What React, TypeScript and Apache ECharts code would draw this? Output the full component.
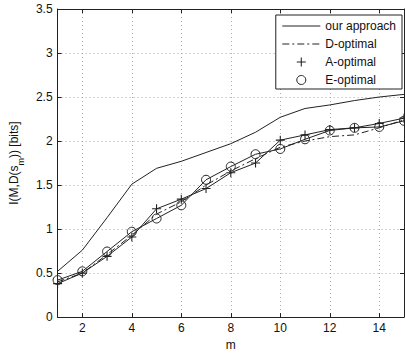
import React, { useEffect, useRef } from "react";
import * as echarts from "echarts";

const mValues = [1, 2, 3, 4, 5, 6, 7, 8, 9, 10, 11, 12, 13, 14, 15];
const ourApproach = [0.52, 0.76, 1.13, 1.51, 1.69, 1.77, 1.87, 1.97, 2.1, 2.27, 2.37, 2.41, 2.46, 2.5, 2.53];
const dOptimal = [0.4, 0.5, 0.71, 0.93, 1.17, 1.31, 1.5, 1.66, 1.8, 1.93, 2.0, 2.05, 2.07, 2.15, 2.24];
const aOptimal = [0.38, 0.5, 0.69, 0.91, 1.23, 1.34, 1.46, 1.64, 1.75, 2.01, 2.07, 2.13, 2.15, 2.2, 2.26];
const eOptimal = [0.42, 0.52, 0.745, 0.97, 1.12, 1.27, 1.56, 1.71, 1.85, 1.91, 2.02, 2.12, 2.15, 2.16, 2.23];
const seriesNames = ["our approach", "D-optimal", "A-optimal", "E-optimal"];

const FONT = "Liberation Sans, Arial, Helvetica, sans-serif";
const PLUS = "path://M4.4,0 L5.6,0 L5.6,4.4 L10,4.4 L10,5.6 L5.6,5.6 L5.6,10 L4.4,10 L4.4,5.6 L0,5.6 L0,4.4 L4.4,4.4 Z";

export default function App() {
  const ref = useRef<HTMLDivElement>(null);
  useEffect(() => {
    if (!ref.current) return;
    const chart = echarts.init(ref.current, null, { renderer: "svg" });
    const pair = (arr: number[]) => mValues.map((m, i) => [m, arr[i]]);
    const axisCommon = {
      axisLine: { show: true, onZero: false, lineStyle: { color: "#222", width: 1 } },
      axisTick: { show: true, inside: true, length: 4, lineStyle: { color: "#222" } },
    };
    const xBase = { type: "value", min: 1, max: 15, splitNumber: 7 };
    const yBase = { type: "value", min: 0, max: 3.5, interval: 0.5 };
    chart.setOption({
      animation: false,
      backgroundColor: "#fff",
      textStyle: { fontFamily: FONT },
      grid: { left: 54, right: 1, top: 9, bottom: 32, containLabel: false },
      legend: {
        data: [
          { name: seriesNames[0], itemStyle: { opacity: 0 } },
          { name: seriesNames[1], itemStyle: { opacity: 0 } },
          { name: seriesNames[2], icon: PLUS, itemStyle: { color: "#222" } },
          {
            name: seriesNames[3],
            icon: "circle",
            itemStyle: { color: "transparent", borderColor: "#222", borderWidth: 1 },
          },
        ],
        orient: "vertical",
        right: 3,
        top: 15,
        padding: [5, 6, 3, 6],
        itemGap: 6,
        itemWidth: 38,
        itemHeight: 9,
        backgroundColor: "#fff",
        borderColor: "#222",
        borderWidth: 1,
        borderRadius: 0,
        selectedMode: false,
        lineStyle: { width: 1 },
        textStyle: { fontSize: 12, color: "#111", fontFamily: FONT },
      },
      xAxis: [
        {
          ...xBase,
          position: "bottom",
          ...axisCommon,
          name: "m",
          nameLocation: "middle",
          nameGap: 21,
          nameTextStyle: { fontSize: 12, color: "#111", fontFamily: FONT },
          axisLabel: { showMinLabel: false, showMaxLabel: false, margin: 5, fontSize: 12, color: "#111", fontFamily: FONT },
          splitLine: { show: true, lineStyle: { color: "#aaa", type: [1, 3], width: 1 } },
        },
        {
          ...xBase,
          position: "top",
          ...axisCommon,
          axisLabel: { show: false },
          splitLine: { show: false },
        },
      ],
      yAxis: [
        {
          ...yBase,
          position: "left",
          ...axisCommon,
          name: "I(M,D(s{sub|m})) [bits]",
          nameLocation: "middle",
          nameGap: 33,
          nameTextStyle: {
            fontSize: 12,
            color: "#111",
            fontFamily: FONT,
            rich: { sub: { fontSize: 9, fontFamily: FONT, color: "#111", verticalAlign: "bottom", padding: [0, 0, -5, 0] } },
          },
          axisLabel: { margin: 5, fontSize: 12, color: "#111", fontFamily: FONT },
          splitLine: { show: true, lineStyle: { color: "#aaa", type: [1, 3], width: 1 } },
        },
        {
          ...yBase,
          position: "right",
          ...axisCommon,
          axisLabel: { show: false },
          splitLine: { show: false },
        },
      ],
      series: [
        {
          name: seriesNames[0],
          type: "line",
          data: pair(ourApproach),
          symbol: "none",
          lineStyle: { color: "#222", width: 1 },
          itemStyle: { color: "#222" },
        },
        {
          name: seriesNames[1],
          type: "line",
          data: pair(dOptimal),
          symbol: "none",
          lineStyle: { color: "#222", width: 1, type: [7, 3, 2, 3] },
          itemStyle: { color: "#222" },
        },
        {
          name: seriesNames[2],
          type: "line",
          data: pair(aOptimal),
          symbol: PLUS,
          symbolSize: 9,
          lineStyle: { color: "#222", width: 1 },
          itemStyle: { color: "#222" },
        },
        {
          name: seriesNames[3],
          type: "line",
          data: pair(eOptimal),
          symbol: "circle",
          symbolSize: 9,
          lineStyle: { color: "#222", width: 1 },
          itemStyle: { color: "transparent", borderColor: "#222", borderWidth: 1 },
        },
      ],
    });
    return () => chart.dispose();
  }, []);
  return (
    <div
      ref={ref}
      style={{ position: "fixed", left: 0, top: 0, width: 405, height: 356, background: "#fff" }}
    />
  );
}
